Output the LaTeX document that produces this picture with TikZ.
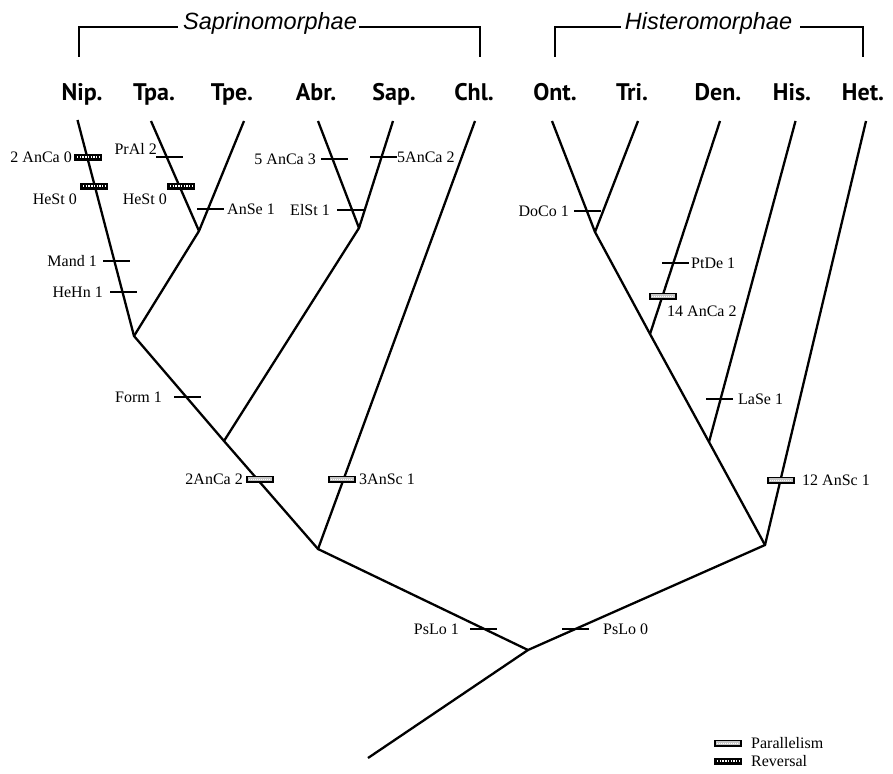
\documentclass[tikz,border=0pt]{standalone}
\usepackage{fontspec}
\setmainfont{Liberation Serif}
\newfontfamily\taxfont{PT Sans}
\newfontfamily\grpfont{Liberation Sans}
\usetikzlibrary{calc}
\begin{document}
\begin{tikzpicture}[x=1pt,y=-1pt,
  br/.style={line width=2.3pt, line join=round},
  bracket/.style={line width=1.6pt},
  tax/.style={font=\taxfont\bfseries\fontsize{24}{28}\selectfont, anchor=base, inner sep=0pt},
  grp/.style={font=\grpfont\itshape\fontsize{23.5}{28}\selectfont, anchor=base, inner sep=0pt},
  lab/.style={font=\fontsize{16}{19}\selectfont, inner sep=0pt},
  tk/.style={rectangle, fill=black, minimum width=27pt, minimum height=2pt, inner sep=0pt},
  rev/.style={rectangle, fill=black, minimum width=28pt, minimum height=7pt, inner sep=0pt,
    path picture={\draw[white, line width=2.4pt, dash pattern=on 1.4pt off 1.3pt]
      ([xshift=3pt]path picture bounding box.west) -- ([xshift=-3pt]path picture bounding box.east);}},
  par/.style={rectangle, fill=black, minimum width=28pt, minimum height=7pt, inner sep=0pt,
    path picture={\fill[gray!45] ([shift={(2pt,-1.8pt)}]path picture bounding box.north west) rectangle ([shift={(-2pt,1.8pt)}]path picture bounding box.south east);
      \draw[white, line width=1pt, dash pattern=on 1pt off 1pt]
      ([xshift=3pt]path picture bounding box.west) -- ([xshift=-3pt]path picture bounding box.east);}}]
\useasboundingbox (0,0) rectangle (893,773);

% group headers
\node[grp] (sapr) at (270,30) {Saprinomorphae};
\node[grp] (hist) at (708.5,30) {Histeromorphae};
\coordinate (sapL) at (79,57);
\coordinate (sapR) at (480,57);
\coordinate (hisL) at (555,57);
\coordinate (hisR) at (863,57);
\draw[bracket] (sapL) |- ($(sapr.base west)+(-5,-3)$);
\draw[bracket] (sapR) |- ($(sapr.base east)+(2,-3)$);
\draw[bracket] (hisL) |- ($(hist.base west)+(-4,-3)$);
\draw[bracket] (hisR) |- ($(hist.base east)+(8,-3)$);

% taxa
\node[tax] (nNip) at (82,100) {Nip.};
\node[tax] (nTpa) at (154,100) {Tpa.};
\node[tax] (nTpe) at (232,100) {Tpe.};
\node[tax] (nAbr) at (316,100) {Abr.};
\node[tax] (nSap) at (394,100) {Sap.};
\node[tax] (nChl) at (474,100) {Chl.};
\node[tax] (nOnt) at (555,100) {Ont.};
\node[tax] (nTri) at (632,100) {Tri.};
\node[tax] (nDen) at (718,100) {Den.};
\node[tax] (nHis) at (792,100) {His.};
\node[tax] (nHet) at (863,100) {Het.};

% tips
\coordinate (tNip) at (77.5,120);
\coordinate (tTpa) at (151,121);
\coordinate (tTpe) at (244,121);
\coordinate (tAbr) at (318,121);
\coordinate (tSap) at (393,121);
\coordinate (tChl) at (475,121);
\coordinate (tOnt) at (552,121);
\coordinate (tTri) at (638,121);
\coordinate (tDen) at (720,121);
\coordinate (tHis) at (795.5,121);
\coordinate (tHet) at (866,121);
% internal nodes
\coordinate (A) at (134,336);
\coordinate (B) at (199,231);
\coordinate (C) at (224,441);
\coordinate (D) at (359,228);
\coordinate (E) at (318,549);
\coordinate (R) at (528,650);
\coordinate (F) at (595,232);
\coordinate (G) at (650,334);
\coordinate (H) at (709,442);
\coordinate (I) at (765,545);
\coordinate (S) at (368,758);

\draw[br] (tNip) -- (A) -- (C) -- (E) -- (R) -- (I) -- (H) -- (G) -- (F) -- (tOnt);
\draw[br] (tTpa) -- (B) -- (tTpe);
\draw[br] (B) -- (A);
\draw[br] (tAbr) -- (D) -- (tSap);
\draw[br] (D) -- (C);
\draw[br] (tChl) -- (E);
\draw[br] (R) -- (S);
\draw[br] (tTri) -- (F);
\draw[br] (tDen) -- (G);
\draw[br] (tHis) -- (H);
\draw[br] (tHet) -- (I);

% reversal boxes
\node[rev] (rv1) at (88,157) {};
\node[rev] (rv2) at (94,186) {};
\node[rev] (rv3) at (181,186) {};
% parallelism boxes
\node[par] (pa1) at (260,479) {};
\node[par] (pa2) at (342,479) {};
\node[par] (pa3) at (663,296) {};
\node[par] (pa4) at (781,480) {};
% ticks
\node[tk] (kPrAl) at (169,157) {};
\node[tk] (kAnSe) at (210,209) {};
\node[tk] (kAnCa3) at (334,159) {};
\node[tk] (kElSt) at (350,210) {};
\node[tk] (kAnCa2) at (383,157) {};
\node[tk] (kMand) at (116,261) {};
\node[tk] (kHeHn) at (123,292) {};
\node[tk] (kForm) at (187,397) {};
\node[tk] (kPsLo1) at (483,629) {};
\node[tk] (kPsLo0) at (575,629) {};
\node[tk] (kDoCo) at (587,211) {};
\node[tk] (kPtDe) at (675,263) {};
\node[tk] (kLaSe) at (719.5,399) {};

% labels
\node[lab, anchor=base east] at (72,162) {2 AnCa 0};
\node[lab, anchor=base east] at (77,204) {HeSt 0};
\node[lab, anchor=base east] at (97,266) {Mand 1};
\node[lab, anchor=base east] at (103,297) {HeHn 1};
\node[lab, anchor=base east] at (157,154) {PrAl 2};
\node[lab, anchor=base east] at (167,204) {HeSt 0};
\node[lab, anchor=base west] at (227,214) {AnSe 1};
\node[lab, anchor=base east] at (316,164) {5 AnCa 3};
\node[lab, anchor=base east] at (330,215) {ElSt 1};
\node[lab, anchor=base west] at (397,162) {5AnCa 2};
\node[lab, anchor=base east] at (162,402) {Form 1};
\node[lab, anchor=base east] at (243,484) {2AnCa 2};
\node[lab, anchor=base west] at (359,484) {3AnSc 1};
\node[lab, anchor=base east] at (459,634) {PsLo 1};
\node[lab, anchor=base west] at (603,634) {PsLo 0};
\node[lab, anchor=base east] at (569,216) {DoCo 1};
\node[lab, anchor=base west] at (691,268) {PtDe 1};
\node[lab, anchor=base west] at (667,316) {14 AnCa 2};
\node[lab, anchor=base west] at (738,404) {LaSe 1};
\node[lab, anchor=base west] at (802,485) {12 AnSc 1};

% legend
\node[par] (lgP) at (728,743) {};
\node[rev] (lgR) at (728,761) {};
\node[lab, anchor=base west] at (751,748) {Parallelism};
\node[lab, anchor=base west] at (751,766) {Reversal};
\end{tikzpicture}
\end{document}
